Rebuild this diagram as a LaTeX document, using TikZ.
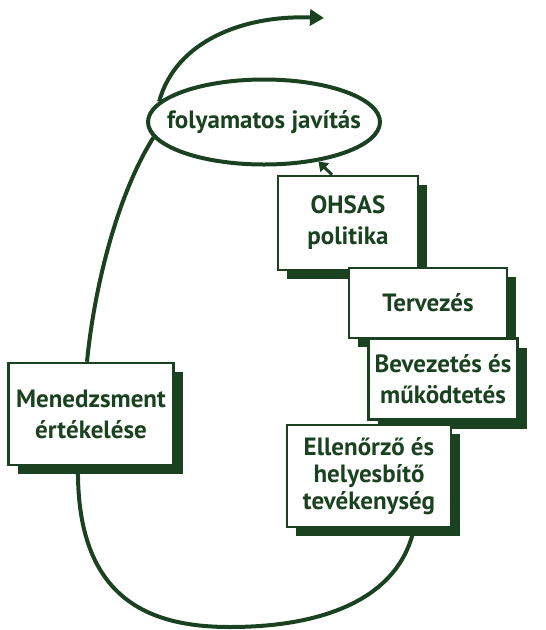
\documentclass[tikz,border=0pt]{standalone}
\usepackage{fontspec}
\setmainfont{PT Sans}
\usetikzlibrary{shapes.geometric,shadows,arrows.meta,backgrounds}
\definecolor{dkgreen}{RGB}{27,66,32}
\tikzset{
  box/.style={draw=dkgreen, line width=2.5pt, fill=white, align=center, inner sep=1pt,
    text=dkgreen, font=\bfseries\fontsize{25}{31}\selectfont,
    drop shadow={shadow xshift=9pt, shadow yshift=-9pt, fill=dkgreen, opacity=1}},
  loop/.style={dkgreen, line width=4pt},
}
\begin{document}
\begin{tikzpicture}[x=1pt, y=-1pt]
  \useasboundingbox (0,0) rectangle (546,630);
  % continual improvement
  \node[ellipse, draw=dkgreen, line width=4pt, minimum width=232pt, minimum height=85pt,
        inner xsep=-30pt, inner ysep=0pt, text=dkgreen, font=\bfseries\fontsize{25}{28}\selectfont]
        (ell) at (264,122) {folyamatos javítás};
  \coordinate (out) at (324,18);
  \draw[loop, -{Triangle[length=14pt,width=16pt]}] (ell.169) .. controls (176,40) and (245,15) .. (out);
  % the steps
  \node[box, minimum width=140pt, minimum height=94pt] (ohsas) at (348,223) {OHSAS\\politika};
  \node[box, minimum width=158pt, minimum height=70pt] (terv) at (428,303) {Tervezés};
  \node[box, minimum width=149pt, minimum height=81pt] (bev) at (443,379) {Bevezetés és\\működtetés};
  \node[box, minimum width=164pt, minimum height=102pt, font=\bfseries\fontsize{25}{27}\selectfont]
        (ell2) at (369,476) {Ellenőrző és\\helyesbítő\\tevékenység};
  \node[box, minimum width=165pt, minimum height=102pt] (men) at (91,414) {Menedzsment\\értékelése};
  % connectors
  \draw[dkgreen, line width=3pt, -{Triangle[length=9pt,width=12pt]}] ([xshift=-16pt]ohsas.north) -- (ell.-36);
  \begin{scope}[on background layer]
    \draw[loop] (ell.188) .. controls (120,190) and (95,280) .. ([xshift=-4pt]men.north);
    \draw[loop] ([xshift=-13pt]men.south) .. controls (76,600) and (150,627) .. (230,627)
       .. controls (330,627) and (400,595) .. ([xshift=45pt]ell2.south);
  \end{scope}
\end{tikzpicture}
\end{document}
